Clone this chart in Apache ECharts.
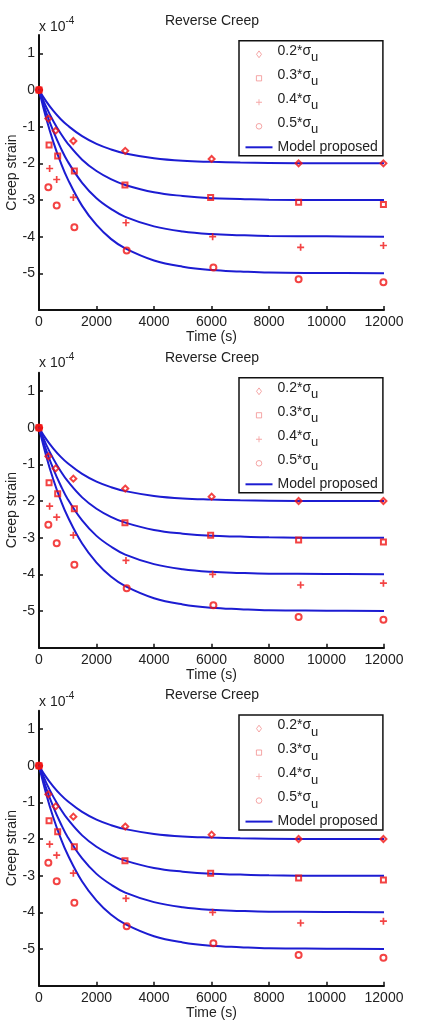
<!DOCTYPE html>
<html>
<head>
<meta charset="utf-8">
<title>Reverse Creep</title>
<script src="https://cdn.jsdelivr.net/npm/echarts@6/dist/echarts.min.js"></script>
<style>
  html, body { margin: 0; padding: 0; background: #fff; }
  #chart { width: 421px; height: 1028px; }
</style>
</head>
<body>
<div id="chart"></div>
<script>
// strain values in units of 1e-4 (axis reads "x 10^-4")
const levelNames = ['0.2*σu', '0.3*σu', '0.4*σu', '0.5*σu'];

// measured points, one time list per stress level
const times02 = [0, 325, 580, 1195, 3000, 6005, 9030, 11980];
const strain02 = [0, -0.78, -1.11, -1.39, -1.66, -1.88, -2.0, -2.0];
const times03 = [0, 350, 650, 1230, 2990, 5970, 9030, 11980];
const strain03 = [0, -1.5, -1.8, -2.21, -2.59, -2.93, -3.06, -3.12];
const times04 = [0, 370, 615, 1195, 3025, 6040, 9100, 11980];
const strain04 = [0, -2.14, -2.44, -2.93, -3.62, -4.0, -4.29, -4.24];
const times05 = [0, 325, 615, 1230, 3050, 6065, 9030, 11980];
const strain05 = [0, -2.65, -3.15, -3.74, -4.38, -4.84, -5.16, -5.24];

// model curves
const modelTimes = [0, 250, 500, 750, 1000, 1500, 2000, 2500, 3000, 4000, 5000, 6000, 7000, 8000, 10000, 12000];
const model02 = [0, -0.31, -0.57, -0.79, -0.97, -1.26, -1.47, -1.62, -1.73, -1.86, -1.93, -1.96, -1.98, -1.99, -2.0, -2.0];
const model03 = [0, -0.46, -0.85, -1.18, -1.46, -1.90, -2.21, -2.43, -2.59, -2.79, -2.89, -2.95, -2.97, -2.99, -3.0, -3.0];
const model04 = [0, -0.61, -1.13, -1.57, -1.95, -2.53, -2.95, -3.24, -3.46, -3.72, -3.86, -3.93, -3.96, -3.98, -3.99, -4.0];
const model05 = [0, -0.77, -1.42, -1.97, -2.43, -3.16, -3.68, -4.06, -4.32, -4.65, -4.82, -4.91, -4.95, -4.98, -4.99, -5.0];

const xTicks = [0, 2000, 4000, 6000, 8000, 10000, 12000];
const yTicks = [-5, -4, -3, -2, -1, 0, 1];

const pointTimes = [times02, times03, times04, times05];
const pointStrain = [strain02, strain03, strain04, strain05];
const modelStrain = [model02, model03, model04, model05];

const red = '#f01414';
const lightRed = '#f39090';
const blue = '#1c1cd2';
const font = "'Liberation Sans', Arial, Helvetica, sans-serif";
const plusPath = 'path://M-1,-0.24L-0.24,-0.24L-0.24,-1L0.24,-1L0.24,-0.24L1,-0.24L1,0.24L0.24,0.24L0.24,1L-0.24,1L-0.24,0.24L-1,0.24Z';
const symbols = ['diamond', 'rect', plusPath, 'circle'];
const symbolSizes = [6, 5, 7, 6];

// legend icons: the two bare moveTo points pin the box to 27x7 so the mark keeps its shape
const box = 'M-13.5,-3.5M13.5,3.5';
const legendIcons = [
    'path://' + box + 'M0,-3.4L2.5,0L0,3.4L-2.5,0Z',
    'path://' + box + 'M-2.6,-2.6L2.6,-2.6L2.6,2.6L-2.6,2.6Z',
    'path://' + box + 'M-3,-0.45L3,-0.45L3,0.45L-3,0.45Z' + 'M-0.45,-3L0.45,-3L0.45,3L-0.45,3Z',
    'path://' + box + 'M2.8,0A2.8,2.8,0,1,1,-2.8,0A2.8,2.8,0,1,1,2.8,0Z',
];
const lineIcon = 'path://' + box + 'M-13.5,-1L13.5,-1L13.5,1L-13.5,1Z';

const panelTops = [35, 372.7, 710.7];
const legendTops = [40.7, 377.7, 715];
const titleYs = [20.7, 357.7, 695];
const expoYs = [26.7, 363, 701.7];

function pts(ts, vs) {
    return ts.map((t, i) => [t, vs[i]]);
}

function pointStyle(i, light) {
    const c = light ? lightRed : red;
    if (i === 2) {
        return { color: c, borderWidth: 0 };
    }
    return { color: 'rgba(0,0,0,0)', borderColor: c, borderWidth: light ? 1 : 2 };
}

const option = {
    animation: false,
    backgroundColor: '#fff',
    textStyle: { fontFamily: font },
    grid: [],
    xAxis: [],
    yAxis: [],
    legend: [],
    series: [],
    graphic: [],
};

panelTops.forEach((top, k) => {
    option.grid.push({ left: 39, right: 37, top: top, height: 275, outerBoundsMode: 'none', containLabel: false });
    option.xAxis.push({
        gridIndex: k,
        type: 'value',
        min: 0,
        max: 12000,
        interval: 2000,
        name: 'Time (s)',
        nameLocation: 'middle',
        nameGap: 20,
        nameMoveOverlap: false,
        nameTextStyle: { fontSize: 14, color: '#222', fontFamily: font },
        axisLine: { onZero: false, lineStyle: { color: '#111', width: 2 } },
        axisTick: { inside: true, length: 4, lineStyle: { color: '#111', width: 1.5 }, customValues: xTicks },
        axisLabel: { margin: 5, fontSize: 14, color: '#222', fontFamily: font, customValues: xTicks, formatter: (v) => String(v) },
        splitLine: { show: false },
    });
    option.yAxis.push({
        gridIndex: k,
        type: 'value',
        min: -6,
        max: 1.5,
        interval: 1,
        name: 'Creep strain',
        nameLocation: 'middle',
        nameGap: 20,
        nameMoveOverlap: false,
        nameTextStyle: { fontSize: 14, color: '#222', fontFamily: font },
        axisLine: { onZero: false, lineStyle: { color: '#111', width: 2 } },
        axisTick: { inside: true, length: 4, lineStyle: { color: '#111', width: 1.5 }, customValues: yTicks },
        axisLabel: { margin: 4, fontSize: 14, color: '#222', fontFamily: font, customValues: yTicks, formatter: (v) => String(v) },
        splitLine: { show: false },
    });

    for (let i = 0; i < 4; i++) {
        option.series.push({
            name: 'Model proposed',
            type: 'line',
            xAxisIndex: k,
            yAxisIndex: k,
            data: pts(modelTimes, modelStrain[i]),
            smooth: 0.4,
            symbol: 'none',
            lineStyle: { color: blue, width: 2 },
            itemStyle: { color: blue },
            z: 2,
        });
    }
    for (let i = 0; i < 4; i++) {
        option.series.push({
            name: levelNames[i],
            type: 'scatter',
            xAxisIndex: k,
            yAxisIndex: k,
            data: pts(pointTimes[i], pointStrain[i]),
            symbol: symbols[i],
            symbolSize: symbolSizes[i],
            itemStyle: pointStyle(i, false),
            z: 3,
        });
    }

    option.legend.push({
        orient: 'vertical',
        left: 239,
        top: legendTops[k],
        padding: [3.6, 5, 1.5, 6],
        itemGap: 4,
        itemWidth: 27,
        itemHeight: 7,
        itemTextGap: 5,
        borderColor: '#111',
        borderWidth: 1.5,
        backgroundColor: '#fff',
        selectedMode: false,
        data: levelNames.map((n, i) => ({ name: n, icon: legendIcons[i], itemStyle: pointStyle(i, true) }))
            .concat([{ name: 'Model proposed', icon: lineIcon, itemStyle: { color: blue, borderWidth: 0 } }]),
        formatter: (name) => {
            if (name.indexOf('σ') >= 0) {
                return '{m|' + name.slice(0, -1) + '}{s|' + name.slice(-1) + '}';
            }
            return '{p|' + name + '}';
        },
        textStyle: {
            color: '#222',
            fontFamily: font,
            fontSize: 14,
            rich: {
                m: { fontSize: 14, lineHeight: 14, verticalAlign: 'top', fontFamily: font, color: '#222' },
                s: { fontSize: 13, padding: [7, 0, 0, 0], fontFamily: font, color: '#222' },
                p: { fontSize: 14, lineHeight: 18, fontFamily: font, color: '#222' },
            },
        },
        z: 10,
    });

    option.graphic.push({
        type: 'text',
        x: 212,
        y: titleYs[k],
        style: { text: 'Reverse Creep', align: 'center', verticalAlign: 'middle', fontSize: 14, fontFamily: font, fill: '#222' },
    });
    option.graphic.push({
        type: 'text',
        x: 39,
        y: expoYs[k],
        style: {
            text: '{a|x 10}{b|-4}',
            align: 'left',
            verticalAlign: 'middle',
            fill: '#222',
            rich: {
                a: { fontSize: 14, fontFamily: font, fill: '#222' },
                b: { fontSize: 10, padding: [0, 0, 11, 0], verticalAlign: 'top', fontFamily: font, fill: '#222' },
            },
        },
    });
});

const chart = echarts.init(document.getElementById('chart'));
chart.setOption(option);
</script>
</body>
</html>
